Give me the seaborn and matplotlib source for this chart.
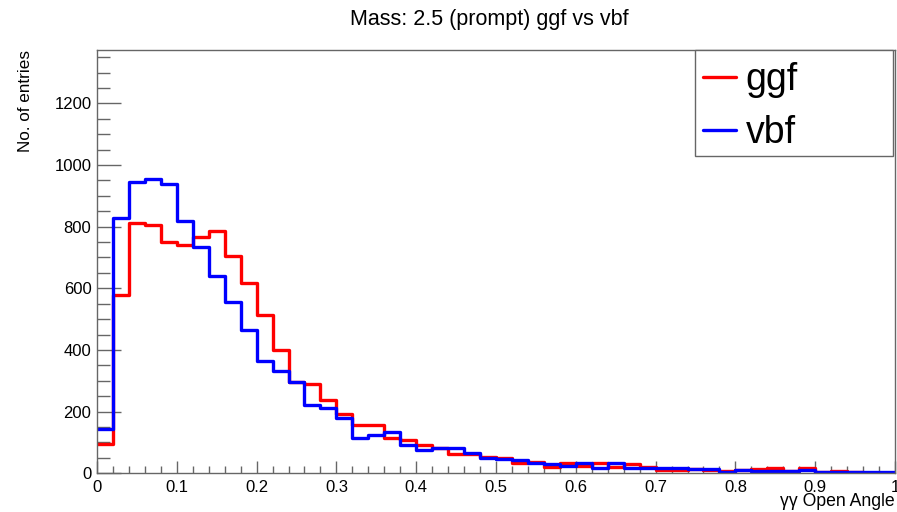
import matplotlib
matplotlib.use("Agg")
import matplotlib.pyplot as plt
from matplotlib.lines import Line2D
from matplotlib.patches import Rectangle
from matplotlib.ticker import MultipleLocator
import numpy as np
import pandas as pd
import seaborn as sns

# 50 bins of width 0.02 over the opening angle
n_bins = 50
bin_edges = np.linspace(0.0, 1.0, n_bins + 1)
bin_centers = 0.5 * (bin_edges[:-1] + bin_edges[1:])

ggf_entries = [94, 578, 812, 804, 750, 741, 768, 786, 704, 618,
               515, 400, 297, 289, 238, 192, 156, 156, 116, 107,
               91, 81, 62, 62, 54, 51, 35, 38, 22, 32,
               25, 32, 22, 29, 19, 11, 11, 14, 11, 9,
               11, 14, 16, 9, 16, 5, 9, 5, 1, 2]
vbf_entries = [143, 828, 945, 956, 939, 818, 734, 640, 555, 466,
               363, 333, 295, 222, 213, 179, 114, 125, 134, 91,
               75, 81, 81, 65, 50, 45, 43, 32, 30, 25,
               35, 18, 35, 18, 16, 16, 18, 14, 14, 5,
               11, 8, 9, 9, 11, 5, 5, 5, 4, 5]

samples = ["ggf", "vbf"]
colors = {"ggf": "#ff0000", "vbf": "#0000ff"}
x_tick_values = [0, 0.1, 0.2, 0.3, 0.4, 0.5, 0.6, 0.7, 0.8, 0.9, 1.0]
x_tick_labels = ["0", "0.1", "0.2", "0.3", "0.4", "0.5", "0.6", "0.7", "0.8", "0.9", "1"]
y_tick_values = [0, 200, 400, 600, 800, 1000, 1200]

df = pd.concat(
    [
        pd.DataFrame({"angle": bin_centers, "entries": ggf_entries, "sample": "ggf"}),
        pd.DataFrame({"angle": bin_centers, "entries": vbf_entries, "sample": "vbf"}),
    ],
    ignore_index=True,
)

sns.set_theme(style="white")
plt.rcParams["font.family"] = ["Liberation Sans", "DejaVu Sans"]
plt.rcParams["text.color"] = "black"

W, H = 897, 512
fig = plt.figure(figsize=(W / 100, H / 100), dpi=100)
ax = fig.add_axes([97 / W, (H - 473.3) / H, 798 / W, (473.3 - 50) / H])

for s in samples:
    sns.histplot(
        data=df[df["sample"] == s], x="angle", weights="entries",
        bins=n_bins, binrange=(0.0, 1.0),
        element="step", fill=False, color=colors[s], linewidth=2.4, ax=ax,
    )

ax.set_xlim(0, 1)
ax.set_ylim(0, 1373)
ax.set_xlabel("")
ax.set_ylabel("")

ax.set_xticks(x_tick_values)
ax.set_xticklabels(x_tick_labels)
ax.xaxis.set_minor_locator(MultipleLocator(0.02))
ax.set_yticks(y_tick_values)
ax.yaxis.set_minor_locator(MultipleLocator(50))

frame_col = "#666666"
for sp in ax.spines.values():
    sp.set_color(frame_col)
    sp.set_linewidth(1.0)
ax.tick_params(axis="both", which="both", direction="in", colors=frame_col,
               labelcolor="black", labelsize=12, width=1.0,
               bottom=True, left=True, top=False, right=False)
ax.tick_params(axis="y", which="major", length=17, pad=4)
ax.tick_params(axis="y", which="minor", length=9)
ax.tick_params(axis="x", which="major", length=9, pad=5)
ax.tick_params(axis="x", which="minor", length=5)

fig.text(489 / W, 1 - 20 / H, "Mass: 2.5 (prompt) ggf vs vbf", ha="center", va="center",
         fontsize=15.5, color="black")
fig.text(25 / W, 1 - 50 / H, "No. of entries", rotation=90, ha="center", va="top",
         fontsize=12.3, color="black")
fig.text(895 / W, 1 - 502 / H, "\u03b3\u03b3 Open Angle", ha="right", va="center",
         fontsize=12.7, color="black")

# legend box (ROOT TLegend style), drawn as a plain frame under the legend entries
ax.add_patch(Rectangle((695 / W, 1 - 156 / H), (893 - 695) / W, (156 - 50) / H,
                       transform=fig.transFigure, facecolor="white", clip_on=False,
                       edgecolor=frame_col, linewidth=1.0, zorder=5))
handles = [Line2D([], [], color=colors[s], linewidth=2.4) for s in samples]
leg = ax.legend(
    handles, samples, loc="upper left", mode="expand",
    bbox_to_anchor=((695 - 97) / 798, 1.0 - 5 / 423.3, (893 - 695) / 798, 0.0),
    borderaxespad=0, fontsize=27, handlelength=0.9, handletextpad=0.25,
    labelspacing=0.43, borderpad=0.2, frameon=False,
    labelcolor="black",
)
leg.set_zorder(6)

fig.savefig("out.png", dpi=100)
